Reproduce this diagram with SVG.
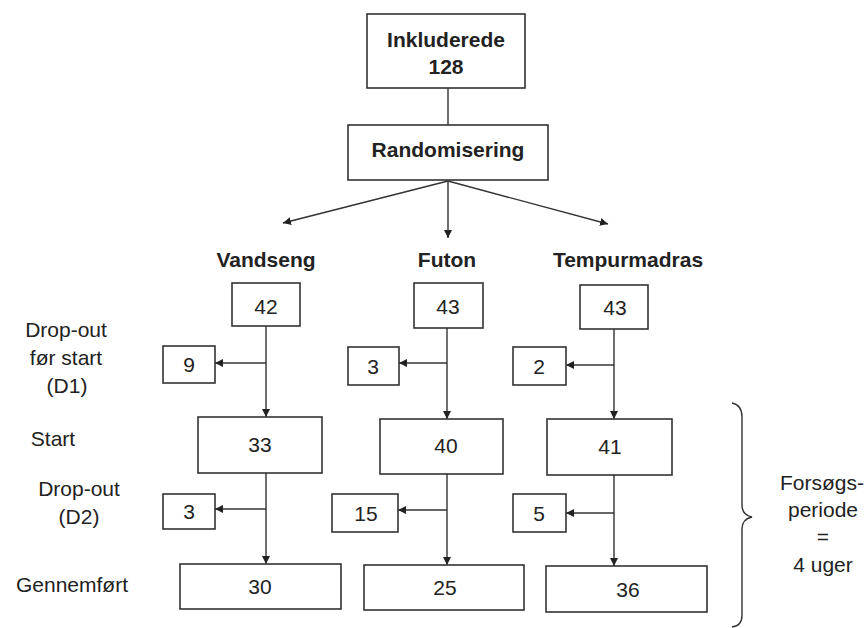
<svg xmlns="http://www.w3.org/2000/svg" width="867" height="628" viewBox="0 0 867 628">
<defs>
<marker id="ah" viewBox="0 0 10 10" refX="10" refY="5" markerWidth="8" markerHeight="8" markerUnits="userSpaceOnUse" orient="auto">
<path d="M0,0 L10,5 L0,10 Z" fill="#222"/>
</marker>
<style>
text{font-family:"Liberation Sans",Arial,sans-serif;font-size:21px;fill:#222;text-anchor:middle}
.b{font-weight:bold}
.n rect{fill:#fff;stroke:#333;stroke-width:1.6}
.c line,.c path{stroke:#333;stroke-width:1.4;fill:none}
</style>
</defs>
<rect x="0" y="0" width="867" height="628" fill="#fff"/>
<g class="c" id="connectors">
<line x1="448" y1="88" x2="448" y2="125"/>
<line x1="448" y1="181" x2="283" y2="223" marker-end="url(#ah)"/>
<line x1="448" y1="181" x2="448" y2="238" marker-end="url(#ah)"/>
<line x1="448" y1="181" x2="608" y2="224" marker-end="url(#ah)"/>
<line x1="266" y1="326" x2="266" y2="417" marker-end="url(#ah)"/>
<line x1="266" y1="363" x2="215" y2="363" marker-end="url(#ah)"/>
<line x1="266" y1="473" x2="266" y2="564" marker-end="url(#ah)"/>
<line x1="266" y1="509" x2="215" y2="509" marker-end="url(#ah)"/>
<line x1="447" y1="328" x2="447" y2="419" marker-end="url(#ah)"/>
<line x1="447" y1="363" x2="399" y2="363" marker-end="url(#ah)"/>
<line x1="447" y1="474" x2="447" y2="565" marker-end="url(#ah)"/>
<line x1="447" y1="510" x2="398" y2="510" marker-end="url(#ah)"/>
<line x1="614" y1="329" x2="614" y2="419" marker-end="url(#ah)"/>
<line x1="614" y1="365" x2="566" y2="365" marker-end="url(#ah)"/>
<line x1="614" y1="475" x2="614" y2="566" marker-end="url(#ah)"/>
<line x1="614" y1="513" x2="566" y2="513" marker-end="url(#ah)"/>
<path d="M732,403 Q742,405 742,417 L742,505 Q742,515 752,517 Q742,519 742,529 L742,615 Q742,626 732,627" stroke="#555"/>
</g>
<g class="n">
<g id="inkluderede"><rect x="367" y="14" width="158" height="74"/><text class="b" x="446" y="47">Inkluderede</text><text class="b" x="446" y="74">128</text></g>
<g id="randomisering"><rect x="348" y="125" width="200" height="55"/><text class="b" x="448" y="157">Randomisering</text></g>
<g id="lbl-vandseng"><text class="b" x="266" y="267">Vandseng</text></g>
<g id="lbl-futon"><text class="b" x="447" y="267">Futon</text></g>
<g id="lbl-tempur"><text class="b" x="628" y="267">Tempurmadras</text></g>
<g id="v42"><rect x="232" y="283" width="68" height="43"/><text x="266" y="314">42</text></g>
<g id="v9"><rect x="163" y="346" width="52" height="37"/><text x="189" y="372">9</text></g>
<g id="v33"><rect x="198" y="417" width="124" height="56"/><text x="260" y="452">33</text></g>
<g id="v3"><rect x="163" y="494" width="52" height="35"/><text x="189" y="519">3</text></g>
<g id="v30"><rect x="180" y="564" width="161" height="45"/><text x="260" y="594">30</text></g>
<g id="f43"><rect x="414" y="283" width="69" height="45"/><text x="448" y="314">43</text></g>
<g id="f3"><rect x="348" y="347" width="51" height="38"/><text x="373" y="374">3</text></g>
<g id="f40"><rect x="380" y="419" width="123" height="55"/><text x="446" y="453">40</text></g>
<g id="f15"><rect x="332" y="494" width="66" height="38"/><text x="366" y="521">15</text></g>
<g id="f25"><rect x="364" y="565" width="160" height="45"/><text x="445" y="595">25</text></g>
<g id="t43"><rect x="580" y="285" width="68" height="44"/><text x="615" y="315">43</text></g>
<g id="t2"><rect x="513" y="347" width="53" height="38"/><text x="539" y="374">2</text></g>
<g id="t41"><rect x="547" y="419" width="125" height="56"/><text x="610" y="454">41</text></g>
<g id="t5"><rect x="513" y="494" width="53" height="38"/><text x="539" y="521">5</text></g>
<g id="t36"><rect x="546" y="566" width="161" height="46"/><text x="628" y="597">36</text></g>
</g>
<g id="left-labels">
<text x="66" y="337">Drop-out</text>
<text x="66" y="365">før start</text>
<text x="67" y="393">(D1)</text>
<text x="53" y="446">Start</text>
<text x="79" y="496">Drop-out</text>
<text x="79" y="524">(D2)</text>
<text x="72" y="592">Gennemført</text>
</g>
<g id="right-label">
<text x="822" y="490">Forsøgs-</text>
<text x="823" y="517">periode</text>
<text x="823" y="544">=</text>
<text x="823" y="572">4 uger</text>
</g>
</svg>
